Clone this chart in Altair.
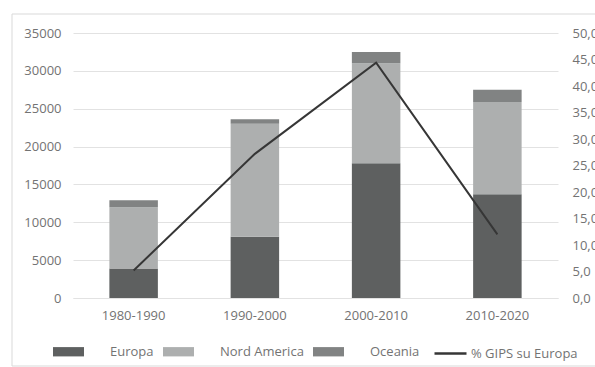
import altair as alt
import pandas as pd

# Decades on the x axis
periods = ["1980-1990", "1990-2000", "2000-2010", "2010-2020"]

# Stacked series (left axis)
regions = ["Europa", "Nord America", "Oceania"]
europa = [3900, 8100, 17800, 13700]
nord_america = [8100, 14900, 13200, 12200]
oceania = [900, 600, 1500, 1600]

# Line series (right axis, percent)
line_name = "% GIPS su Europa"
gips_pct = [5.2, 27.2, 44.4, 12.0]

region_colors = ["#5e6060", "#adafaf", "#818383"]
line_color = "#363636"
grid_color = "#e2e2e2"
text_color = "#737373"
font = "Open Sans"

rows = []
for i, p in enumerate(periods):
    for k, (name, vals) in enumerate(zip(regions, [europa, nord_america, oceania])):
        rows.append({"periodo": p, "regione": name, "valore": vals[i], "ord": k})
bars_df = pd.DataFrame(rows)
line_df = pd.DataFrame({"periodo": periods, "pct": gips_pct, "serie": [line_name] * len(periods)})

x_enc = alt.X(
    "periodo:N",
    sort=periods,
    title=None,
    scale=alt.Scale(paddingInner=0.6, paddingOuter=0.3),
    axis=alt.Axis(labelAngle=0, ticks=False, domainColor=grid_color, labelPadding=11),
)

# Chart-area frame
frame = alt.Chart(pd.DataFrame({"k": [0]})).mark_rect(
    fillOpacity=0, stroke="#d9d9d9", strokeWidth=1
).encode(
    x=alt.value(-61), x2=alt.value(560), y=alt.value(-19), y2=alt.value(333)
)

bars = alt.Chart(bars_df).mark_bar().encode(
    x=x_enc,
    y=alt.Y(
        "valore:Q",
        stack="zero",
        title=None,
        scale=alt.Scale(domain=[0, 35000]),
        axis=alt.Axis(
            orient="left",
            values=list(range(0, 35001, 5000)),
            format="d",
            ticks=False,
            domain=False,
            gridColor=grid_color,
            labelPadding=12,
        ),
    ),
    color=alt.Color(
        "regione:N",
        sort=regions,
        scale=alt.Scale(domain=regions, range=region_colors),
        legend=alt.Legend(
            title=None,
            orient="none",
            legendX=-20,
            legendY=303,
            direction="horizontal",
            symbolType="M-1,-0.3L1,-0.3L1,0.3L-1,0.3Z",
            symbolSize=961,
            symbolStrokeWidth=0,
            labelOffset=26,
            columnPadding=9,
        ),
    ),
    order=alt.Order("ord:Q"),
)

line = alt.Chart(line_df).mark_line(strokeWidth=2).encode(
    x=alt.X("periodo:N", sort=periods),
    y=alt.Y(
        "pct:Q",
        title=None,
        scale=alt.Scale(domain=[0, 50]),
        axis=alt.Axis(
            orient="right",
            values=list(range(0, 51, 5)),
            labelExpr="replace(format(datum.value, '.1f'), '.', ',')",
            ticks=False,
            domain=False,
            grid=False,
            labelPadding=14,
        ),
    ),
    stroke=alt.Stroke(
        "serie:N",
        scale=alt.Scale(domain=[line_name], range=[line_color]),
        legend=alt.Legend(
            title=None,
            orient="none",
            legendX=360,
            legendY=303,
            symbolType="stroke",
            symbolSize=1024,
            symbolStrokeWidth=2.5,
            labelOffset=3,
        ),
    ),
)

chart = (
    alt.layer(frame, bars, line)
    .resolve_scale(y="independent")
    .properties(
        width=485,
        height=265,
        autosize=alt.AutoSizeParams(type="none"),
        padding={"left": 73, "top": 33, "right": 37, "bottom": 69},
        background="white",
    )
    .configure_view(stroke=None)
    .configure_axis(labelFont=font, labelFontSize=13, labelColor=text_color)
    .configure_legend(labelFont=font, labelFontSize=13, labelColor=text_color)
)

chart.save("out.html", embed_options={"renderer": "svg", "actions": False})
